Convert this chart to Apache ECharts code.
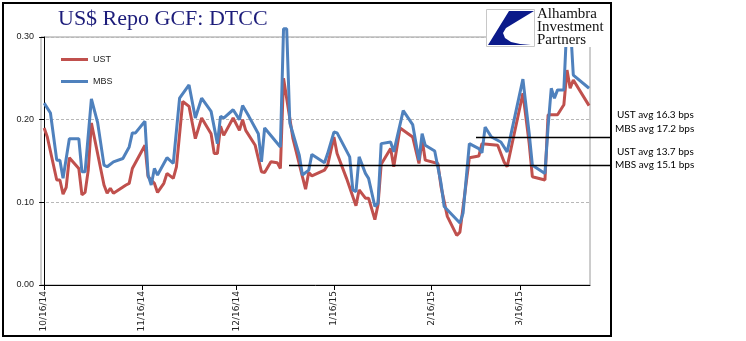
<!DOCTYPE html>
<html>
<head>
<meta charset="utf-8">
<script src="https://cdn.jsdelivr.net/npm/echarts@6/dist/echarts.min.js"></script>
<style>
html,body{margin:0;padding:0;background:#fff;}
#chart{width:746px;height:341px;}
</style>
</head>
<body>
<div id="chart"></div>
<script>
// ---- data ----
const ustDates = ['2014-10-16','2014-10-17','2014-10-20','2014-10-21','2014-10-22','2014-10-23','2014-10-24','2014-10-27','2014-10-28','2014-10-29','2014-10-30','2014-10-31','2014-11-04','2014-11-05','2014-11-06','2014-11-07','2014-11-11','2014-11-12','2014-11-13','2014-11-17','2014-11-18','2014-11-20','2014-11-21','2014-11-23','2014-11-24','2014-11-26','2014-11-27','2014-11-29','2014-12-01','2014-12-03','2014-12-05','2014-12-08','2014-12-09','2014-12-10','2014-12-11','2014-12-12','2014-12-15','2014-12-17','2014-12-18','2014-12-19','2014-12-22','2014-12-24','2014-12-25','2014-12-27','2014-12-29','2014-12-30','2014-12-31','2015-01-03','2015-01-06','2015-01-07','2015-01-08','2015-01-09','2015-01-13','2015-01-14','2015-01-16','2015-01-17','2015-01-20','2015-01-23','2015-01-24','2015-01-26','2015-01-27','2015-01-29','2015-01-30','2015-01-31','2015-02-03','2015-02-04','2015-02-06','2015-02-10','2015-02-12','2015-02-13','2015-02-14','2015-02-18','2015-02-19','2015-02-21','2015-02-24','2015-02-25','2015-02-28','2015-03-03','2015-03-04','2015-03-09','2015-03-11','2015-03-12','2015-03-17','2015-03-19','2015-03-20','2015-03-24','2015-03-25','2015-03-28','2015-03-30','2015-03-31','2015-04-01','2015-04-02','2015-04-07'];
const ustValues = [0.190,0.179,0.127,0.127,0.110,0.118,0.154,0.141,0.109,0.112,0.139,0.196,0.121,0.111,0.117,0.111,0.121,0.123,0.141,0.169,0.131,0.123,0.112,0.123,0.135,0.129,0.143,0.222,0.216,0.177,0.202,0.183,0.159,0.159,0.192,0.181,0.202,0.187,0.200,0.187,0.169,0.137,0.136,0.149,0.148,0.141,0.250,0.177,0.131,0.116,0.136,0.132,0.139,0.145,0.179,0.159,0.129,0.096,0.115,0.105,0.105,0.079,0.097,0.146,0.165,0.143,0.190,0.179,0.147,0.176,0.151,0.147,0.119,0.083,0.060,0.064,0.154,0.156,0.171,0.169,0.149,0.143,0.232,0.171,0.131,0.127,0.206,0.206,0.218,0.260,0.238,0.248,0.217];

const mbsDates = ['2014-10-16','2014-10-18','2014-10-20','2014-10-21','2014-10-22','2014-10-24','2014-10-27','2014-10-28','2014-10-29','2014-10-31','2014-11-02','2014-11-04','2014-11-05','2014-11-07','2014-11-10','2014-11-12','2014-11-13','2014-11-14','2014-11-17','2014-11-18','2014-11-19','2014-11-20','2014-11-21','2014-11-24','2014-11-26','2014-11-28','2014-12-01','2014-12-03','2014-12-05','2014-12-08','2014-12-10','2014-12-11','2014-12-12','2014-12-15','2014-12-17','2014-12-18','2014-12-20','2014-12-23','2014-12-24','2014-12-25','2014-12-30','2014-12-31','2015-01-01','2015-01-02','2015-01-05','2015-01-06','2015-01-08','2015-01-09','2015-01-13','2015-01-14','2015-01-16','2015-01-17','2015-01-21','2015-01-22','2015-01-23','2015-01-24','2015-01-26','2015-01-27','2015-01-29','2015-01-30','2015-01-31','2015-02-03','2015-02-04','2015-02-07','2015-02-10','2015-02-12','2015-02-13','2015-02-14','2015-02-17','2015-02-19','2015-02-20','2015-02-25','2015-02-26','2015-02-28','2015-03-03','2015-03-04','2015-03-05','2015-03-07','2015-03-10','2015-03-12','2015-03-17','2015-03-19','2015-03-20','2015-03-24','2015-03-25','2015-03-26','2015-03-27','2015-03-28','2015-03-30','2015-03-31','2015-04-01','2015-04-02','2015-04-07'];
const mbsValues = [0.220,0.208,0.151,0.151,0.129,0.177,0.177,0.137,0.137,0.225,0.196,0.145,0.143,0.149,0.153,0.167,0.184,0.184,0.198,0.133,0.121,0.141,0.133,0.154,0.147,0.226,0.242,0.202,0.226,0.210,0.171,0.204,0.202,0.212,0.200,0.217,0.204,0.183,0.149,0.190,0.167,0.310,0.310,0.196,0.157,0.133,0.139,0.158,0.148,0.159,0.185,0.184,0.155,0.115,0.113,0.155,0.135,0.129,0.095,0.099,0.171,0.173,0.161,0.211,0.194,0.151,0.183,0.169,0.162,0.123,0.095,0.075,0.087,0.171,0.165,0.160,0.191,0.179,0.173,0.161,0.249,0.183,0.145,0.135,0.192,0.238,0.226,0.236,0.236,0.320,0.320,0.254,0.238];

const tickDates = ['2014-10-16','2014-11-16','2014-12-16','2015-01-16','2015-02-16','2015-03-16'];
const tickLabels = ['10/16/14','11/16/14','12/16/14','1/16/15','2/16/15','3/16/15'];

const seriesNames = ['UST','MBS'];
const annotations = ['UST avg 16.3 bps','MBS avg 17.2 bps','UST avg 13.7 bps','MBS avg 15.1 bps'];

// ---- helpers ----
const START = Date.UTC(2014, 9, 16);
function dayOf(s){const p=s.split('-').map(Number);return Math.round((Date.UTC(p[0],p[1]-1,p[2])-START)/86400000);}
function pairs(dates, vals){return dates.map((d,i)=>[dayOf(d), vals[i]]);}
const tickDays = tickDates.map(dayOf);
const labelMap = {}; tickDays.forEach((d,i)=>labelMap[d]=tickLabels[i]);

const chart = echarts.init(document.getElementById('chart'), null, {renderer:'canvas'});
chart.setOption({
  animation:false,
  backgroundColor:'#fff',
  title:{
    text:'US$ Repo GCF: DTCC', left:53, top:3,
    textStyle:{fontFamily:'Liberation Serif', fontSize:22, fontWeight:'normal', color:'#1c1c7a'}
  },
  legend:{
    orient:'vertical', left:56, top:50, itemWidth:27, itemHeight:3, itemGap:13,
    icon:'rect',
    textStyle:{fontFamily:'Liberation Sans', fontSize:9, color:'#222'},
    data:seriesNames
  },
  grid:{left:41, right:156, top:37, bottom:56, show:true, borderColor:'#9a9a9a', borderWidth:1},
  xAxis:{
    type:'value', min:-1, max:173.3,
    splitLine:{show:false},
    axisLine:{show:true, lineStyle:{color:'#000', width:1}},
    axisTick:{show:true, length:5, lineStyle:{color:'#000'}, customValues:tickDays},
    axisLabel:{show:true, rotate:90, margin:6, customValues:tickDays,
      fontFamily:'DejaVu Sans', fontSize:9, color:'#222',
      formatter:v=>labelMap[Math.round(v)]||''}
  },
  yAxis:{
    type:'value', min:0, max:0.3, interval:0.1,
    axisLine:{show:true, lineStyle:{color:'#000', width:1}},
    axisTick:{show:true, length:5, lineStyle:{color:'#000'}},
    axisLabel:{fontFamily:'Liberation Sans', fontSize:9, color:'#222', margin:7,
      formatter:v=>v.toFixed(2)},
    splitLine:{show:true, lineStyle:{color:'#b8b8b8', type:[3,2], width:1}}
  },
  series:[
    {name:'UST', type:'line', symbol:'none', clip:false, data:pairs(ustDates, ustValues),
      lineStyle:{color:'#c0504d', width:3}, itemStyle:{color:'#c0504d'}, z:2},
    {name:'MBS', type:'line', symbol:'none', clip:false, data:pairs(mbsDates, mbsValues),
      lineStyle:{color:'#4f81bd', width:3}, itemStyle:{color:'#4f81bd'}, z:3}
  ],
  graphic:[
    {type:'rect', z:100, shape:{x:486, y:4, width:125, height:43}, style:{fill:'#fff'}},
    {type:'rect', z:101, shape:{x:486.5, y:9.5, width:48, height:37}, style:{fill:'#fff', stroke:'#c8c8c8', lineWidth:1}},
    {type:'polygon', z:102, shape:{points:[[509,11],[534,11],[506,28],[503,33],[505,38],[511,42],[520,44],[531,45],[488,45]]}, style:{fill:'#0b1a8a'}},
    {type:'text', z:102, left:537, top:7, style:{text:'Alhambra\nInvestment\nPartners', font:'15px "Liberation Serif"', lineHeight:13, fill:'#111'}},
    {type:'rect', z:110, shape:{x:3, y:3, width:608, height:333}, style:{fill:'none', stroke:'#000', lineWidth:2}},
    {type:'line', z:105, shape:{x1:476, y1:137.5, x2:611, y2:137.5}, style:{stroke:'#000', lineWidth:1.3}},
    {type:'line', z:105, shape:{x1:289, y1:165.5, x2:611, y2:165.5}, style:{stroke:'#000', lineWidth:1.3}},
    {type:'text', z:105, left:617, top:110, style:{text:annotations[0], font:'10px Lato', fill:'#000'}},
    {type:'text', z:105, left:615, top:124, style:{text:annotations[1], font:'10px Lato', fill:'#000'}},
    {type:'text', z:105, left:617, top:147, style:{text:annotations[2], font:'10px Lato', fill:'#000'}},
    {type:'text', z:105, left:615, top:160, style:{text:annotations[3], font:'10px Lato', fill:'#000'}}
  ]
});
</script>
</body>
</html>
